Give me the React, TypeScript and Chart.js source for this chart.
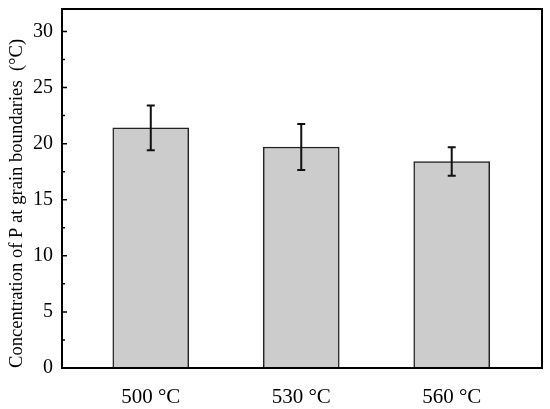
import { useEffect, useRef } from "react";
import { Chart, registerables } from "chart.js";

Chart.register(...registerables);

// data
const categories = ["500 °C", "530 °C", "560 °C"];
const concentration = [21.4, 19.7, 18.4];
const errors = [2.0, 2.05, 1.27];
const yTicks = [0, 5, 10, 15, 20, 25, 30];

const FONT = "'Liberation Serif', 'Times New Roman', serif";

// error bars drawn through the scales
const errorBars = {
  id: "errorBars",
  afterDatasetsDraw(chart: any) {
    const { ctx, scales } = chart;
    ctx.save();
    ctx.strokeStyle = "#111";
    ctx.lineWidth = 2;
    concentration.forEach((v, i) => {
      const x = scales.x.getPixelForValue(i);
      const yTop = scales.y.getPixelForValue(v + errors[i]);
      const yBot = scales.y.getPixelForValue(v - errors[i]);
      ctx.beginPath();
      ctx.moveTo(x, yTop);
      ctx.lineTo(x, yBot);
      ctx.moveTo(x - 4, yTop);
      ctx.lineTo(x + 4, yTop);
      ctx.moveTo(x - 4, yBot);
      ctx.lineTo(x + 4, yBot);
      ctx.stroke();
    });
    ctx.restore();
  },
};

// box frame and inward y ticks (major + minor)
const frame = {
  id: "frame",
  afterDraw(chart: any) {
    const { ctx, chartArea: a, scales } = chart;
    ctx.save();
    ctx.strokeStyle = "#000";
    ctx.lineWidth = 2;
    ctx.strokeRect(a.left, a.top, a.right - a.left, a.bottom - a.top);
    ctx.lineWidth = 1.5;
    ctx.beginPath();
    yTicks.forEach((v) => {
      const py = scales.y.getPixelForValue(v);
      ctx.moveTo(a.left, py);
      ctx.lineTo(a.left + 5, py);
      const m = v + 2.5;
      if (m < scales.y.max) {
        const pm = scales.y.getPixelForValue(m);
        ctx.moveTo(a.left, pm);
        ctx.lineTo(a.left + 3, pm);
      }
    });
    ctx.stroke();
    ctx.restore();
  },
};

export default function App() {
  const canvasRef = useRef<HTMLCanvasElement | null>(null);

  useEffect(() => {
    if (!canvasRef.current) return;

    const chart = new Chart(canvasRef.current, {
      type: "bar",
      data: {
        datasets: [
          {
            label: "Concentration",
            data: concentration.map((v, i) => ({ x: i, y: v })),
            backgroundColor: "#cccccc",
            borderColor: "#222",
            borderWidth: 1.5,
            barThickness: 76,
          },
        ],
      },
      options: {
        responsive: false,
        animation: false,
        layout: { padding: { top: 9, right: 8, left: 0, bottom: 0 } },
        plugins: {
          legend: { display: false },
          tooltip: { enabled: false },
        },
        scales: {
          x: {
            type: "linear",
            min: -0.59,
            max: 2.6,
            offset: false,
            grid: { display: false, drawTicks: false, offset: false },
            border: { display: true, color: "#000", width: 2 },
            afterBuildTicks: (s: any) => {
              s.ticks = categories.map((_, i) => ({ value: i }));
            },
            afterFit: (s: any) => {
              s.height = 41;
              s.paddingLeft = 0;
              s.paddingRight = 0;
            },
            ticks: {
              callback: (v: any) => categories[v] ?? "",
              color: "#000",
              padding: 17,
              font: { family: FONT, size: 21 },
              maxRotation: 0,
            },
          },
          y: {
            min: 0,
            max: 32,
            grid: { display: false, drawTicks: false },
            border: { display: true, color: "#000", width: 2 },
            afterBuildTicks: (s: any) => {
              s.ticks = yTicks.map((v) => ({ value: v }));
            },
            afterFit: (s: any) => {
              s.width = 62;
              s.paddingTop = 0;
              s.paddingBottom = 0;
            },
            ticks: {
              color: "#000",
              padding: 9,
              font: { family: FONT, size: 20 },
            },
            title: {
              display: true,
              text: "Concentration of P at grain boundaries  (°C)",
              align: "start",
              color: "#000",
              font: { family: FONT, size: 18.6 },
              padding: { top: 6, bottom: 0 },
            },
          },
        },
      },
      plugins: [errorBars, frame],
    });

    return () => {
      chart.destroy();
    };
  }, []);

  return (
    <div style={{ position: "fixed", left: 0, top: 0, width: 550, height: 409, background: "#fff" }}>
      <canvas ref={canvasRef} width={550} height={409}></canvas>
    </div>
  );
}
